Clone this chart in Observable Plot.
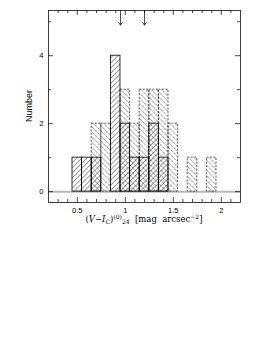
<!DOCTYPE html>
<html><head><meta charset="utf-8">
<script src="https://cdn.jsdelivr.net/npm/d3@7"></script>
<script src="https://cdn.jsdelivr.net/npm/@observablehq/plot@0.6"></script>
<style>body{margin:0;background:#fff;width:273px;height:353px;overflow:hidden}</style>
</head><body><div id="chart"></div>
<script>
const binCenters = [0.5,0.6,0.7,0.8,0.9,1.0,1.1,1.2,1.3,1.4,1.5,1.6,1.7,1.8,1.9];
const countsSolid = [1,1,1,0,4,2,1,1,2,1,0,0,0,0,0];
const countsDashed = [0,0,2,2,0,3,2,3,3,3,2,0,1,0,1];
const binWidth = 0.1;
const arrowX = [0.95, 1.2];
const arrowTop = 5.33, arrowTip = 4.9;
const xMajor = [0.5,1,1.5,2];
const xMinor = [0.3,0.4,0.6,0.7,0.8,0.9,1.1,1.2,1.3,1.4,1.6,1.7,1.8,1.9,2.1];
const yMajor = [0,2,4];
const yMinor = [1,3,5];

const W = 273, H = 232, mL = 48, mR = 33, mT = 10, mB = 30;
const fw = W - mL - mR, fh = H - mT - mB;
const solid = binCenters.map((c,i)=>({c, n: countsSolid[i]})).filter(d=>d.n>0);
const dashed = binCenters.map((c,i)=>({c, n: countsDashed[i]})).filter(d=>d.n>0);
const rectOpts = {x1: d=>d.c-binWidth/2, x2: d=>d.c+binWidth/2, y1: 0, y2: d=>d.n};
const font = "Liberation Sans, Arial, sans-serif";

const plot = Plot.plot({
  width: W, height: H, marginLeft: mL, marginRight: mR, marginTop: mT, marginBottom: mB,
  style: {fontFamily: font, fontSize: "7.5px", background: "white", color: "black"},
  x: {domain: [0.2, 2.2]},
  y: {domain: [-0.32, 5.33]},
  marks: [
    Plot.ruleY([0], {stroke: "#b8b8b8", strokeWidth: 2}),
    Plot.rectY(dashed, {...rectOpts, fill: "url(#hatchB)", stroke: "#333", strokeWidth: 0.8, strokeDasharray: "2,1.5"}),
    Plot.rectY(solid, {...rectOpts, fill: "url(#hatchA)", stroke: "#000", strokeWidth: 0.8}),
    Plot.arrow(arrowX, {x: d=>d, y1: arrowTop, y2: arrowTip, stroke: "#222", strokeWidth: 0.8, headLength: 6, headAngle: 70}),
    // inward ticks
    Plot.ruleX(xMajor, {x: d=>d, insetTop: fh-5, strokeWidth: 0.7}),
    Plot.ruleX(xMinor, {x: d=>d, insetTop: fh-3, strokeWidth: 0.7}),
    Plot.ruleX(xMajor, {x: d=>d, insetBottom: fh-5, strokeWidth: 0.7}),
    Plot.ruleX(xMinor, {x: d=>d, insetBottom: fh-3, strokeWidth: 0.7}),
    Plot.ruleY(yMajor, {y: d=>d, insetRight: fw-5, strokeWidth: 0.7}),
    Plot.ruleY(yMinor, {y: d=>d, insetRight: fw-3, strokeWidth: 0.7}),
    Plot.ruleY(yMajor, {y: d=>d, insetLeft: fw-5, strokeWidth: 0.7}),
    Plot.ruleY(yMinor, {y: d=>d, insetLeft: fw-3, strokeWidth: 0.7}),
    Plot.axisX({ticks: xMajor, tickSize: 0, tickPadding: 5, tickFormat: d=>String(d), label: null}),
    Plot.axisY({ticks: yMajor, tickSize: 0, tickPadding: 5, tickFormat: d=>String(d), label: null}),
    Plot.frame({stroke: "#111", strokeWidth: 0.8})
  ]
});

const svg = d3.select(plot);
const defs = svg.insert("defs", ":first-child");
const pA = defs.append("pattern").attr("id","hatchA").attr("patternUnits","userSpaceOnUse")
  .attr("width",3.6).attr("height",4).attr("patternTransform","rotate(45)");
pA.append("line").attr("x1",0).attr("y1",0).attr("x2",0).attr("y2",4).attr("stroke","#000").attr("stroke-width",0.8);
const pB = defs.append("pattern").attr("id","hatchB").attr("patternUnits","userSpaceOnUse")
  .attr("width",3.6).attr("height",4).attr("patternTransform","rotate(-45)");
pB.append("line").attr("x1",0).attr("y1",0).attr("x2",0).attr("y2",4).attr("stroke","#222").attr("stroke-width",0.8).attr("stroke-dasharray","1.7,0.8");

// y label
svg.append("text").attr("transform", `translate(29,${mT+fh/2}) rotate(-90)`)
  .attr("text-anchor","middle").attr("dy","0.35em")
  .style("font-family", font).style("font-size","9px").text("Number");

// x label
const xl = svg.append("text").attr("x", mL+fw/2).attr("y", 222).attr("text-anchor","middle")
  .style("font-family","DejaVu Serif, serif").style("font-size","8.5px");
xl.append("tspan").text("(");
xl.append("tspan").attr("font-style","italic").text("V");
xl.append("tspan").text("\u2212");
xl.append("tspan").attr("font-style","italic").text("I");
xl.append("tspan").attr("font-size","6px").attr("dy","1.5").text("C");
xl.append("tspan").attr("dy","-1.5").text(")");
xl.append("tspan").attr("font-size","6px").attr("dy","-3").text("(0)");
xl.append("tspan").attr("font-size","6px").attr("dy","5").text("24");
xl.append("tspan").attr("dy","-2").text("\u00a0\u00a0[mag\u00a0\u00a0arcsec");
xl.append("tspan").attr("font-size","6px").attr("dy","-3").text("\u22122");
xl.append("tspan").attr("dy","3").text("]");

document.getElementById("chart").appendChild(plot);
</script></body></html>
